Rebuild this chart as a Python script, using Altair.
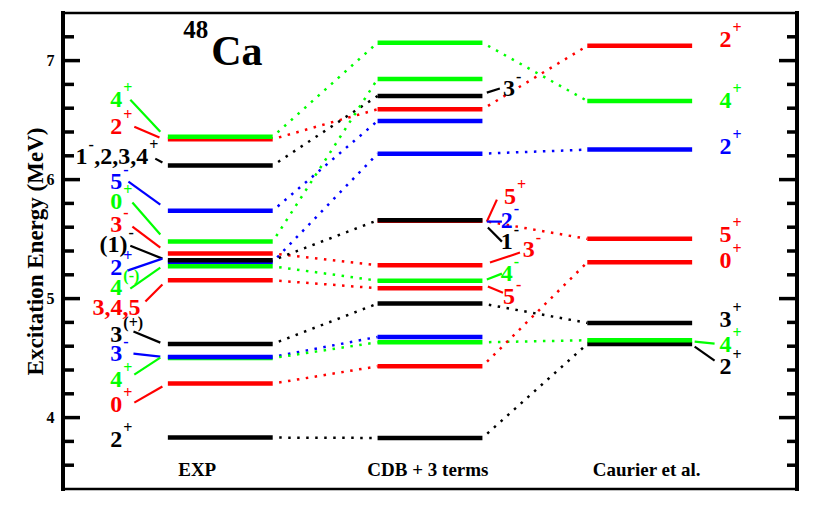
import altair as alt
import pandas as pd

FONT = "Liberation Serif"
W, H = 734, 476

# colour keys
color_keys = ["k", "r", "g", "b"]
color_vals = ["#000000", "#ff0000", "#00ff00", "#0000ff"]

# ---- levels: column (0 EXP, 1 CDB + 3 terms, 2 Caurier et al.), energy (MeV), colour
lev_col = [0, 0, 0, 0, 0, 0, 0, 0, 0, 0, 0, 0, 0, 0, 0,
           1, 1, 1, 1, 1, 1, 1, 1, 1, 1, 1, 1, 1, 1, 1, 1,
           2, 2, 2, 2, 2, 2, 2, 2]
lev_E = [6.34, 6.36, 6.118, 5.739, 5.479, 5.378, 5.307, 5.322, 5.271, 5.154, 4.619, 4.50, 4.51, 4.286, 3.832,
         7.151, 6.846, 6.703, 6.591, 6.493, 6.218, 5.655, 5.658, 5.28, 5.151, 5.087, 4.958, 4.633, 4.678, 4.431, 3.829,
         7.124, 6.661, 6.252, 5.502, 5.305, 4.796, 4.619, 4.650]
lev_c = ["r", "g", "k", "b", "g", "r", "b", "k", "g", "r", "k", "g", "b", "r", "k",
         "g", "g", "k", "r", "b", "b", "r", "k", "r", "g", "r", "k", "g", "b", "r", "k",
         "r", "g", "b", "r", "r", "k", "k", "g"]

# ---- dotted correspondences: from column, energy there, energy in next column, colour
lnk_col = [0] * 15 + [1] * 8
lnk_E1 = [6.36, 6.34, 6.118, 5.739, 5.479, 5.378, 5.307, 5.322, 5.271, 5.154, 4.619, 4.51, 4.50, 4.286, 3.832,
          7.151, 6.591, 6.218, 5.655, 4.958, 4.633, 4.431, 3.829]
lnk_E2 = [7.151, 6.591, 6.703, 6.493, 6.846, 5.28, 6.218, 5.658, 5.151, 5.087, 4.958, 4.678, 4.633, 4.431, 3.829,
          6.661, 7.124, 6.252, 5.502, 4.796, 4.650, 5.305, 4.619]
lnk_c = ["g", "r", "k", "b", "g", "r", "b", "k", "g", "r", "k", "b", "g", "r", "k",
         "g", "r", "b", "r", "k", "g", "r", "k"]

# ---- spin/parity labels: base text, superscript, colour, anchor x (column units), energy
lab_txt = ["4", "2", "1", ",2,3,4", "5", "0", "3", "(1)", "2", "4", "3,4,5", "3", "3", "4", "0", "2",
           "3", "5", "2", "1", "3", "4", "5",
           "2", "4", "2", "5", "0", "3", "4", "2"]
lab_sup = ["+", "+", "-", "+", "-", "+", "-", "-", "+", "(-)", "", "(+)", "-", "+", "+", "+",
           "-", "+", "-", "-", "-", "-", "-",
           "+", "+", "+", "+", "+", "+", "+", "+"]
lab_c = ["g", "r", "k", "k", "b", "g", "r", "k", "b", "g", "r", "k", "b", "g", "r", "k",
         "k", "r", "b", "k", "r", "g", "r",
         "r", "g", "b", "r", "r", "k", "g", "k"]
lab_x = [-0.467, -0.467, -0.633, -0.343, -0.467, -0.467, -0.467, -0.443, -0.467, -0.467, -0.381, -0.467,
         -0.467, -0.467, -0.467, -0.467,
         1.405, 1.41, 1.395, 1.395, 1.50, 1.395, 1.405,
         2.438, 2.438, 2.438, 2.438, 2.438, 2.438, 2.438, 2.438]
lab_E = [6.672, 6.445, 6.193, 6.193, 5.983, 5.815, 5.622, 5.454, 5.261, 5.092, 4.924, 4.697, 4.538, 4.319,
         4.109, 3.815,
         6.765, 5.857, 5.655, 5.479, 5.412, 5.210, 5.017,
         7.176, 6.664, 6.277, 5.538, 5.319, 4.824, 4.613, 4.429]

# ---- label pointer lines: x1, E1, x2, E2, colour
ptr_x1 = [-0.429, -0.410, -0.310, -0.438, -0.419, -0.419, -0.429, -0.443, -0.429, -0.357, -0.414, -0.414,
          -0.410, -0.410,
          1.271, 1.271, 1.271, 1.276, 1.286, 1.271, 1.276,
          2.262, 2.262]
ptr_E1 = [6.672, 6.445, 6.176, 5.983, 5.807, 5.605, 5.445, 5.235, 5.084, 4.975, 4.723, 4.538, 4.361, 4.126,
          6.731, 5.647, 5.647, 5.597, 5.303, 5.160, 5.101,
          4.639, 4.597]
ptr_x2 = [-0.286, -0.290, -0.276, -0.286, -0.286, -0.286, -0.276, -0.276, -0.286, -0.276, -0.286, -0.286,
          -0.286, -0.276,
          1.333, 1.319, 1.343, 1.343, 1.429, 1.343, 1.348,
          2.357, 2.357]
ptr_E2 = [6.403, 6.353, 6.143, 5.790, 5.538, 5.429, 5.336, 5.336, 5.261, 5.118, 4.630, 4.513, 4.504, 4.261,
          6.765, 5.832, 5.647, 5.479, 5.387, 5.210, 5.050,
          4.622, 4.479]
ptr_c = ["g", "r", "k", "b", "g", "r", "k", "b", "g", "r", "k", "b", "g", "r",
         "k", "r", "b", "k", "r", "g", "r",
         "g", "k"]

# ---- column titles
col_titles = ["EXP", "CDB + 3 terms", "Caurier et al."]
col_title_x = [-0.110, 0.990, 2.033]
col_title_E = [3.563, 3.563, 3.563]

# ---- axis ticks
major_ticks = [4, 5, 6, 7]
minor_ticks = [3.6, 3.8, 4.2, 4.4, 4.6, 4.8, 5.2, 5.4, 5.6, 5.8, 6.2, 6.4, 6.6, 6.8, 7.2]

levels = pd.DataFrame({"col": lev_col, "E": lev_E, "c": lev_c})
levels["x1"] = levels["col"] - 0.25
levels["x2"] = levels["col"] + 0.25
levels["order"] = range(len(levels))

links = pd.DataFrame({"col": lnk_col, "E1": lnk_E1, "E2": lnk_E2, "c": lnk_c})
links["x1"] = links["col"] + 0.25
links["x2"] = links["col"] + 0.75

labels = pd.DataFrame({"t": lab_txt, "s": lab_sup, "c": lab_c, "x": lab_x, "E": lab_E})
pointers = pd.DataFrame({"x1": ptr_x1, "E1": ptr_E1, "x2": ptr_x2, "E2": ptr_E2, "c": ptr_c})
titles = pd.DataFrame({"t": col_titles, "x": col_title_x, "E": col_title_E})
majors = pd.DataFrame({"E": major_ticks})
minors = pd.DataFrame({"E": minor_ticks})

xscale = alt.Scale(domain=[-0.75, 2.75], nice=False, zero=False)
yscale = alt.Scale(domain=[3.4, 7.4], nice=False, zero=False)
yaxis = alt.Axis(values=major_ticks, title="Excitation Energy (MeV)", ticks=False, domain=False,
                 grid=False, labelFont=FONT, labelFontWeight="bold", labelFontSize=16,
                 labelColor="black", labelPadding=9, titleFont=FONT, titleFontWeight="bold",
                 titleFontSize=23, titleColor="black", titlePadding=-1)
cscale = alt.Scale(domain=color_keys, range=color_vals)


def X(f):
    return alt.X(f, type="quantitative", scale=xscale, axis=None)


def Y(f):
    return alt.Y(f, type="quantitative", scale=yscale, axis=yaxis)


def C():
    return alt.Color("c:N", scale=cscale, legend=None)


link_layer = alt.Chart(links).mark_rule(strokeWidth=2.5, strokeDash=[2.5, 6.5], strokeDashOffset=2.5).encode(
    x=X("x1"), x2="x2", y=Y("E1"), y2="E2", color=C())

level_layer = alt.Chart(levels).mark_rule(strokeWidth=4.5, strokeCap="butt").encode(
    x=X("x1"), x2="x2", y=Y("E"), color=C(), order="order:Q")

ptr_layer = alt.Chart(pointers).mark_rule(strokeWidth=2.2).encode(
    x=X("x1"), x2="x2", y=Y("E1"), y2="E2", color=C())

base_txt = alt.Chart(labels).mark_text(font=FONT, fontWeight="bold", fontSize=24, align="right",
                                       baseline="middle").encode(
    x=X("x"), y=Y("E"), text="t:N", color=C())
sup_txt = alt.Chart(labels).mark_text(font=FONT, fontWeight="bold", fontSize=16, align="left",
                                      baseline="middle", dx=1, dy=-12).encode(
    x=X("x"), y=Y("E"), text="s:N", color=C())

title_txt = alt.Chart(titles).mark_text(font=FONT, fontWeight="bold", fontSize=19, align="center",
                                        baseline="middle", color="black").encode(
    x=X("x"), y=Y("E"), text="t:N")

nuc = pd.DataFrame({"t": ["48"], "x": [-0.057], "E": [7.193]})
el = pd.DataFrame({"t": ["Ca"], "x": [-0.043], "E": [6.966]})
nuc_txt = alt.Chart(nuc).mark_text(font=FONT, fontWeight="bold", fontSize=25, align="right",
                                   baseline="alphabetic", color="black").encode(
    x=X("x"), y=Y("E"), text="t:N")
el_txt = alt.Chart(el).mark_text(font=FONT, fontWeight="bold", fontSize=42, align="left",
                                 baseline="alphabetic", color="black").encode(
    x=X("x"), y=Y("E"), text="t:N")

lmaj = alt.Chart(majors).mark_rule(strokeWidth=3.5, color="black").encode(
    y=Y("E"), x=alt.value(0), x2=alt.value(17))
lmin = alt.Chart(minors).mark_rule(strokeWidth=3.5, color="black").encode(
    y=Y("E"), x=alt.value(0), x2=alt.value(11))
rmaj = alt.Chart(majors).mark_rule(strokeWidth=3.5, color="black").encode(
    y=Y("E"), x=alt.value(W - 18), x2=alt.value(W))
rmin = alt.Chart(minors).mark_rule(strokeWidth=3.5, color="black").encode(
    y=Y("E"), x=alt.value(W - 10), x2=alt.value(W))
edges = pd.DataFrame({"side": [0, W]})
edge_layer = alt.Chart(edges).mark_rule(strokeWidth=4, color="black").encode(
    x=alt.X("side:Q", scale=None, axis=None), y=alt.value(-2), y2=alt.value(H + 2))

chart = alt.layer(
    link_layer, level_layer, ptr_layer, base_txt, sup_txt, title_txt, nuc_txt, el_txt,
    lmaj, lmin, rmaj, rmin, edge_layer
).properties(
    width=W, height=H,
    autosize=alt.AutoSizeParams(type="none"),
    padding={"left": 55, "top": 5, "right": 4, "bottom": 5},
).configure_view(stroke="black", strokeWidth=2.5)

chart.save("out.html", embed_options={"renderer": "svg", "actions": False})
